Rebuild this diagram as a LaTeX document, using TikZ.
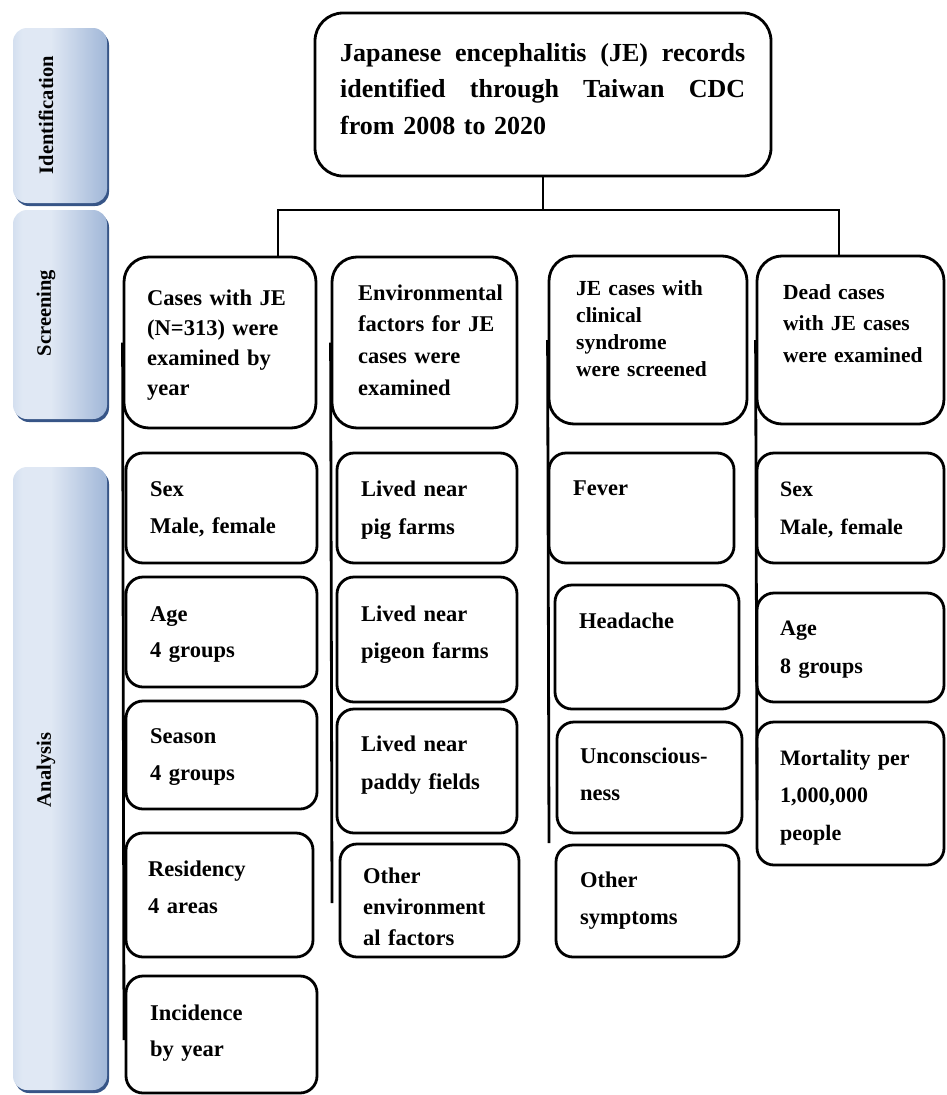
\documentclass[tikz,border=0pt]{standalone}
\usepackage{fontspec}
\setmainfont{Liberation Serif}
\usetikzlibrary{fit}
\definecolor{barA}{RGB}{150,178,214}
\definecolor{barB}{RGB}{224,232,244}
\definecolor{barC}{RGB}{108,142,192}
\definecolor{barShadow}{RGB}{55,85,135}
\pgfdeclarehorizontalshading{barshade}{100bp}{color(0bp)=(barA); color(30bp)=(barB); color(45bp)=(barB); color(100bp)=(barC)}
\newcommand\myfs[2]{\fontsize{#1}{#2}\selectfont\bfseries}
\begin{document}
\begin{tikzpicture}[x=1pt,y=-1pt,
  box/.style={draw, line width=2.8pt, rounded corners=17pt, inner sep=0pt},
  scr/.style={box, rounded corners=25pt},
  topbox/.style={box, rounded corners=28pt},
  conn/.style={line width=2.8pt},
  txt/.style={anchor=base west, inner sep=0pt, align=left, text width=190pt},
  bar/.style={inner sep=0pt, rounded corners=14pt, shading=barshade},
  barlabel/.style={rotate=90, inner sep=0pt, font=\myfs{20.5}{24}}]
\useasboundingbox (0,0) rectangle (946,1095);

% side bars
\fill[barShadow, rounded corners=14pt] (15,31) rectangle (109,206);
\node[bar, fit={(13,28) (107,203)}] (idbar) {};
\node[barlabel] (idlab) at (46,115) {Identification};
\fill[barShadow, rounded corners=14pt] (15,213) rectangle (109,422);
\node[bar, fit={(13,210) (107,419)}] (scbar) {};
\node[barlabel] (sclab) at (46,313) {Screening};
\fill[barShadow, rounded corners=14pt] (15,470) rectangle (109,1093);
\node[bar, fit={(13,467) (107,1090)}] (anbar) {};
\node[barlabel] (anlab) at (46,770) {Analysis};

% top box
\node[topbox, fit={(315,13) (771,176)}] (top) {};
\node[txt, text width=405pt, font=\myfs{26}{36.5}] (toptxt) at (340,61)
  {\makebox[405pt][l]{Japanese\hfill encephalitis\hfill (JE)\hfill records}\\\makebox[405pt][l]{identified\hfill through\hfill Taiwan\hfill CDC}\\from 2008 to 2020};

% screening boxes
\node[scr, fit={(124,257) (316,428)}] (s1) {};
\node[txt, font=\myfs{22.5}{30}] (s1t) at (147,305) {Cases with JE\\(N=313) were\\examined by\\year};
\node[scr, fit={(332,257) (517,428)}] (s2) {};
\node[txt, font=\myfs{22.5}{31.7}] (s2t) at (358,300) {Environmental\\factors for JE\\cases were\\examined};
\node[scr, fit={(549,256) (747,424)}] (s3) {};
\node[txt, font=\myfs{21.5}{27.3}] (s3t) at (576,295) {JE cases with\\clinical\\syndrome\\were screened};
\node[scr, fit={(757,256) (944,424)}] (s4) {};
\node[txt, font=\myfs{21.5}{31.5}] (s4t) at (783,299) {Dead cases\\with JE cases\\were examined};

% tree connector
\coordinate (jL) at (278,210);
\coordinate (jR) at (839,210);
\draw[conn] (top.south) -- (top.south |- jL);
\draw[conn] (jL |- s1.north) -- (jL) -- (jR) -- (jR |- s4.north);

% column lines
\coordinate (e1) at (124,1040);
\coordinate (e2) at (332,903);
\coordinate (e3) at (549,843);
\coordinate (e4) at (757,800);

% column 1
\node[box, fill=white, fit={(126,453) (317,563)}] (a1) {};
\node[txt, font=\myfs{22.5}{37}] (a1t) at (150,496) {Sex\\Male, female};
\node[box, fill=white, fit={(126,577) (317,687)}] (a2) {};
\node[txt, font=\myfs{22.5}{36}] (a2t) at (150,621) {Age\\4 groups};
\node[box, fill=white, fit={(126,701) (317,809)}] (a3) {};
\node[txt, font=\myfs{22.5}{37}] (a3t) at (150,743) {Season\\4 groups};
\node[box, fill=white, fit={(126,833) (313,957)}] (a4) {};
\node[txt, font=\myfs{22.5}{37}] (a4t) at (148,876) {Residency\\4 areas};
\node[box, fill=white, fit={(126,976) (317,1093)}] (a5) {};
\node[txt, font=\myfs{22.5}{36}] (a5t) at (150,1020) {Incidence\\by year};

% column 2
\node[box, fill=white, fit={(337,453) (517,563)}] (b1) {};
\node[txt, font=\myfs{22.5}{38}] (b1t) at (361,496) {Lived near\\pig farms};
\node[box, fill=white, fit={(337,577) (517,702)}] (b2) {};
\node[txt, font=\myfs{22.5}{37}] (b2t) at (361,621) {Lived near\\pigeon farms};
\node[box, fill=white, fit={(337,709) (517,833)}] (b3) {};
\node[txt, font=\myfs{22.5}{38}] (b3t) at (361,751) {Lived near\\paddy fields};
\node[box, fill=white, fit={(340,844) (519,957)}] (b4) {};
\node[txt, font=\myfs{22.5}{31}] (b4t) at (363,883) {Other\\environment\\al factors};

% column 3
\node[box, fill=white, fit={(549,453) (734,563)}] (c1) {};
\node[txt, font=\myfs{22.5}{37}] (c1t) at (573,495) {Fever};
\node[box, fill=white, fit={(555,585) (739,709)}] (c2) {};
\node[txt, font=\myfs{22.5}{37}] (c2t) at (579,628) {Headache};
\node[box, fill=white, fit={(557,722) (742,833)}] (c3) {};
\node[txt, font=\myfs{22.5}{37}] (c3t) at (580,763) {Unconscious-\\ness};
\node[box, fill=white, fit={(556,845) (739,957)}] (c4) {};
\node[txt, font=\myfs{22.5}{37}] (c4t) at (580,887) {Other\\symptoms};

% column 4
\node[box, fill=white, fit={(757,453) (944,563)}] (d1) {};
\node[txt, font=\myfs{22}{38}] (d1t) at (780,496) {Sex\\Male, female};
\node[box, fill=white, fit={(757,593) (944,702)}] (d2) {};
\node[txt, font=\myfs{22}{38}] (d2t) at (780,635) {Age\\8 groups};
\node[box, fill=white, fit={(757,722) (944,865)}] (d3) {};
\node[txt, font=\myfs{22}{37.5}] (d3t) at (780,765) {Mortality per\\1,000,000\\people};

% column lines along the left edges
\draw[conn] (s1.west) -- (e1);
\draw[conn] (s2.west) -- (e2);
\draw[conn] (s3.west) -- (e3);
\draw[conn] (s4.west) -- (e4);
\end{tikzpicture}
\end{document}
